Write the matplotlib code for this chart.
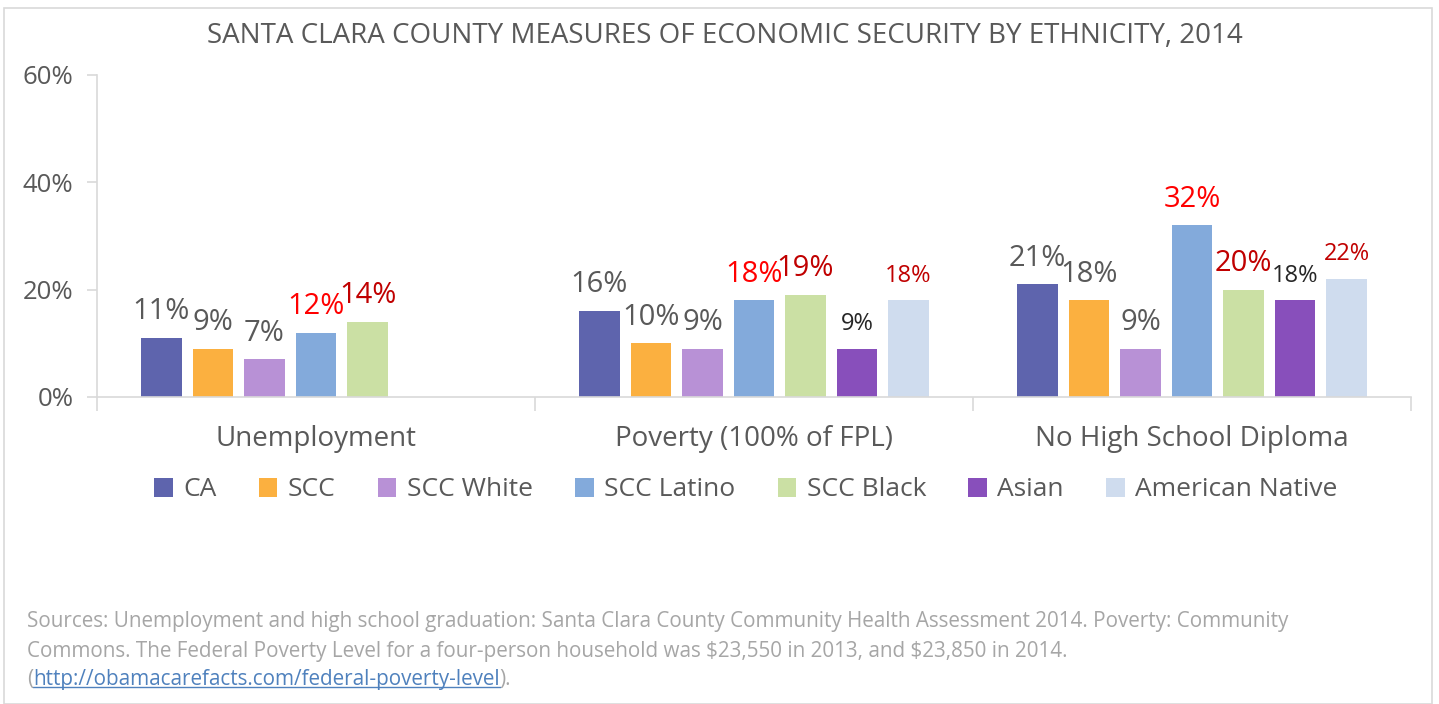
import numpy as np
import matplotlib.pyplot as plt
from matplotlib.patches import Patch, Rectangle
from matplotlib.lines import Line2D

plt.rcParams['font.family'] = ['Open Sans', 'DejaVu Sans']

# data
categories = ['Unemployment', 'Poverty (100% of FPL)', 'No High School Diploma']
series = ['CA', 'SCC', 'SCC White', 'SCC Latino', 'SCC Black', 'Asian', 'American Native']
ca = [0.11, 0.16, 0.21]
scc = [0.09, 0.10, 0.18]
scc_white = [0.07, 0.09, 0.09]
scc_latino = [0.12, 0.18, 0.32]
scc_black = [0.14, 0.19, 0.20]
asian = [np.nan, 0.09, 0.18]
american_native = [np.nan, 0.18, 0.22]
values = [ca, scc, scc_white, scc_latino, scc_black, asian, american_native]
y_ticks = [0, 0.2, 0.4, 0.6]
source_lines = [
    'Sources: Unemployment and high school graduation: Santa Clara County Community Health Assessment 2014. Poverty: Community',
    r'Commons. The Federal Poverty Level for a four-person household was \$23,550 in 2013, and \$23,850 in 2014.',
]
link = 'http://obamacarefacts.com/federal-poverty-level'

# styles
colors = ['#5E64AD', '#FBB040', '#B891D6', '#83AADB', '#CBE0A4', '#884FBB', '#CFDCEE']
GRAY = '#595959'
RED = '#FF0000'
DRED = '#C00000'
BLACK = '#262626'
label_colors = [
    [GRAY, GRAY, GRAY],
    [GRAY, GRAY, GRAY],
    [GRAY, GRAY, GRAY],
    [RED, RED, RED],
    [DRED, DRED, DRED],
    [None, BLACK, BLACK],
    [None, DRED, DRED],
]
big, small = 21, 17
label_sizes = [
    [big, big, big],
    [big, big, big],
    [big, big, big],
    [big, big, big],
    [big, big, big],
    [None, small, small],
    [None, small, small],
]

W, H = 1439, 704
fig = plt.figure(figsize=(W / 100, H / 100), dpi=100)
fig.patches.append(Rectangle((4 / W, 0), (1432 - 4) / W, (H - 8) / H,
                             transform=fig.transFigure, fill=False,
                             edgecolor='#D9D9D9', linewidth=1.2))

ax = fig.add_axes([97 / W, (H - 397) / H, (1411 - 97) / W, (397 - 75) / H])

x = np.arange(len(categories))
pitch = 0.1176
width = 0.0915
for i, (name, vals) in enumerate(zip(series, values)):
    pos = x + (i - 3) * pitch
    ax.bar(pos, vals, width, color=colors[i], label=name, edgecolor='none')
    for j, v in enumerate(vals):
        if np.isnan(v):
            continue
        ax.annotate(f'{v * 100:.0f}%', (pos[j], v), xytext=(0, 13.5),
                    textcoords='offset points', ha='center', va='baseline',
                    color=label_colors[i][j], fontsize=label_sizes[i][j])

ax.set_xlim(-0.5, 2.5)
ax.set_ylim(0, 0.6)
ax.set_yticks(y_ticks)
ax.set_yticklabels([f'{t * 100:.0f}%' for t in y_ticks])
ax.set_xticks(x)
ax.set_xticklabels(categories)
ax.set_xticks([-0.5, 0.5, 1.5, 2.5], minor=True)
ax.tick_params(axis='x', which='major', length=0, pad=20, labelsize=20, labelcolor=GRAY)
ax.tick_params(axis='x', which='minor', length=10, color='#D9D9D9', width=1.2)
ax.tick_params(axis='y', length=7, color='#D9D9D9', width=1.2, pad=10,
               labelsize=18.5, labelcolor=GRAY)
for s in ['top', 'right']:
    ax.spines[s].set_visible(False)
for s in ['left', 'bottom']:
    ax.spines[s].set_color('#D9D9D9')
    ax.spines[s].set_linewidth(1.2)

fig.text(725 / W, 1 - 36 / H, 'SANTA CLARA COUNTY MEASURES OF ECONOMIC SECURITY BY ETHNICITY, 2014',
         ha='center', va='center', fontsize=20, color=GRAY)

handles = [Patch(facecolor=c, edgecolor='none') for c in colors]
fig.legend(handles, series, loc='center', bbox_to_anchor=(746 / W, 1 - 490 / H),
           ncol=7, frameon=False, fontsize=19, labelcolor=GRAY,
           handlelength=0.7, handleheight=0.7, handletextpad=0.4, columnspacing=1.6)

SRC = '#A6A6A6'
fs = 14.9
fig.text(27 / W, 1 - 621 / H, source_lines[0], ha='left', va='center', fontsize=fs, color=SRC)
fig.text(27 / W, 1 - 651 / H, source_lines[1], ha='left', va='center', fontsize=fs, color=SRC)
t0 = fig.text(27 / W, 1 - 680 / H, '(', ha='left', va='center', fontsize=fs, color=SRC)
fig.canvas.draw()
r = fig.canvas.get_renderer()
bb0 = t0.get_window_extent(r)
t1 = fig.text(bb0.x1 / W, 1 - 680 / H, link, ha='left', va='center', fontsize=fs, color='#4F81BD')
bb1 = t1.get_window_extent(r)
fig.text(bb1.x1 / W, 1 - 680 / H, ').', ha='left', va='center', fontsize=fs, color=SRC)
uy = (bb1.y0 + 4) / H
fig.lines.append(Line2D([bb1.x0 / W, bb1.x1 / W], [uy, uy], transform=fig.transFigure,
                        color='#4F81BD', linewidth=1))

fig.savefig('out.png', dpi=100)
